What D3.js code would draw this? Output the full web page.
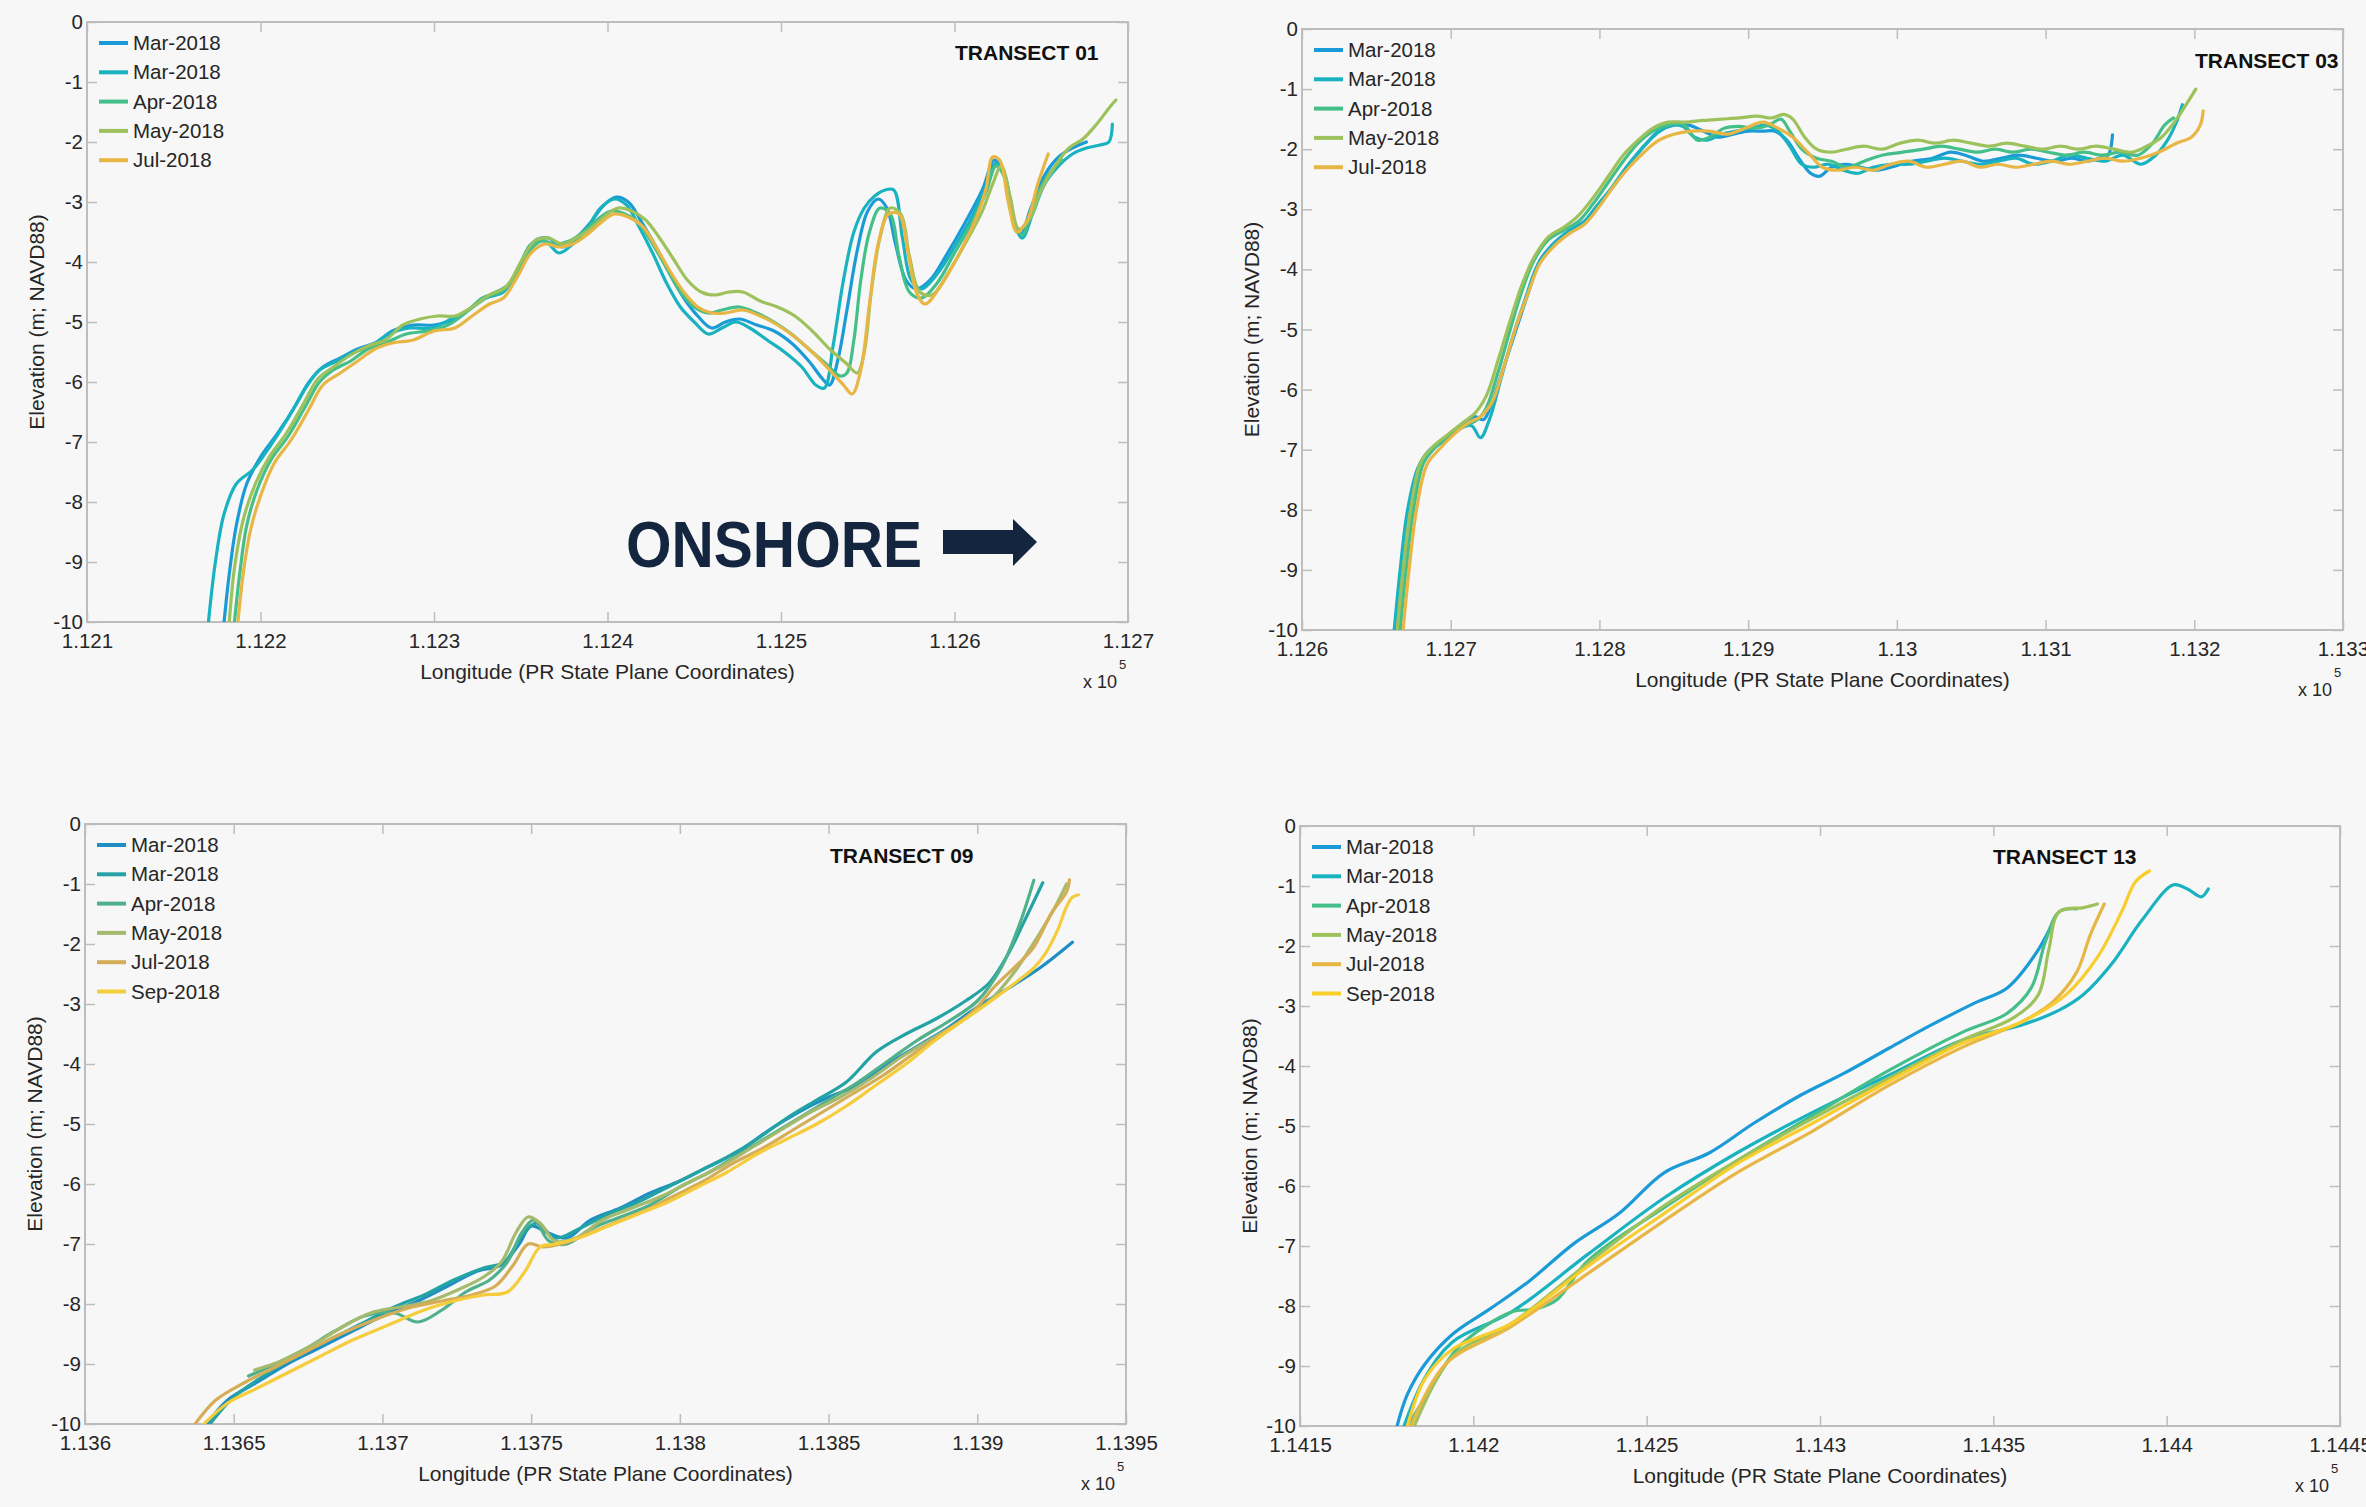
<!DOCTYPE html>
<html>
<head>
<meta charset="utf-8">
<script src="https://cdn.jsdelivr.net/npm/d3@7"></script>
<style>
  body { margin: 0; background: #f7f7f7; }
  svg text { font-family: "Liberation Sans", Arial, sans-serif; }
</style>
</head>
<body>
<svg id="chart" width="2366" height="1507"></svg>
<script>
// ---- data (x in units of 1e5 PR State Plane, y = elevation m NAVD88) ----
var yTicks = [0, -1, -2, -3, -4, -5, -6, -7, -8, -9, -10];

// TRANSECT 01
var t01Names = ["Mar-2018", "Mar-2018", "Apr-2018", "May-2018", "Jul-2018"];
var t01Ticks = [1.121, 1.122, 1.123, 1.124, 1.125, 1.126, 1.127];
var t01MarA = [[1.12179,-10],[1.12182,-9.2],[1.12186,-8.4],[1.12192,-7.7],[1.12200,-7.25],[1.12210,-6.85],[1.12220,-6.4],[1.12228,-6.0],[1.12236,-5.75],[1.12246,-5.6],[1.12256,-5.45],[1.12266,-5.35],[1.12276,-5.15],[1.12288,-5.05],[1.12300,-5.05],[1.12312,-4.95],[1.12322,-4.75],[1.12332,-4.55],[1.12342,-4.4],[1.12350,-4.05],[1.12358,-3.65],[1.12366,-3.6],[1.12374,-3.75],[1.12382,-3.6],[1.12390,-3.35],[1.12398,-3.05],[1.12405,-2.92],[1.12412,-3.0],[1.12420,-3.35],[1.12428,-3.75],[1.12436,-4.2],[1.12444,-4.6],[1.12452,-4.9],[1.12460,-5.1],[1.12468,-5.0],[1.12476,-4.95],[1.12486,-5.05],[1.12496,-5.15],[1.12506,-5.35],[1.12516,-5.65],[1.12524,-5.95],[1.12528,-6.05],[1.12533,-5.6],[1.12538,-4.8],[1.12544,-3.8],[1.12550,-3.15],[1.12556,-2.95],[1.12561,-3.1],[1.12566,-3.7],[1.12572,-4.3],[1.12578,-4.45],[1.12586,-4.3],[1.12596,-3.85],[1.12606,-3.35],[1.12616,-2.8],[1.12623,-2.3],[1.12628,-2.5],[1.12633,-3.2],[1.12638,-3.55],[1.12644,-3.1],[1.12652,-2.55],[1.12660,-2.25],[1.12668,-2.1],[1.12676,-2.0]];
var t01MarB = [[1.12170,-10],[1.12174,-9.0],[1.12179,-8.2],[1.12186,-7.7],[1.12196,-7.45],[1.12206,-7.05],[1.12216,-6.6],[1.12226,-6.1],[1.12234,-5.8],[1.12244,-5.65],[1.12254,-5.5],[1.12264,-5.4],[1.12274,-5.2],[1.12286,-5.1],[1.12298,-5.1],[1.12310,-4.95],[1.12320,-4.8],[1.12330,-4.6],[1.12340,-4.5],[1.12348,-4.15],[1.12356,-3.7],[1.12364,-3.65],[1.12372,-3.85],[1.12380,-3.7],[1.12388,-3.45],[1.12396,-3.1],[1.12404,-2.95],[1.12411,-3.05],[1.12418,-3.4],[1.12426,-3.85],[1.12434,-4.35],[1.12442,-4.75],[1.12450,-5.0],[1.12458,-5.2],[1.12466,-5.1],[1.12474,-5.0],[1.12482,-5.1],[1.12492,-5.3],[1.12502,-5.5],[1.12512,-5.75],[1.12520,-6.05],[1.12525,-6.1],[1.12530,-5.4],[1.12536,-4.3],[1.12542,-3.5],[1.12548,-3.1],[1.12554,-2.9],[1.12560,-2.8],[1.12565,-2.8],[1.12570,-3.6],[1.12575,-4.3],[1.12581,-4.45],[1.12590,-4.2],[1.12600,-3.75],[1.12610,-3.25],[1.12618,-2.75],[1.12624,-2.35],[1.12629,-2.55],[1.12634,-3.3],[1.12639,-3.6],[1.12645,-3.2],[1.12652,-2.7],[1.12660,-2.4],[1.12668,-2.2],[1.12676,-2.1],[1.12684,-2.05],[1.12689,-2.0],[1.12691,-1.7]];
var t01Apr = [[1.12185,-10],[1.12188,-9.2],[1.12192,-8.4],[1.12198,-7.8],[1.12206,-7.3],[1.12216,-6.9],[1.12226,-6.4],[1.12234,-6.0],[1.12242,-5.8],[1.12252,-5.65],[1.12262,-5.45],[1.12272,-5.35],[1.12284,-5.2],[1.12296,-5.15],[1.12308,-5.05],[1.12318,-4.85],[1.12328,-4.6],[1.12338,-4.5],[1.12346,-4.3],[1.12354,-3.85],[1.12362,-3.65],[1.12370,-3.7],[1.12378,-3.65],[1.12386,-3.5],[1.12394,-3.3],[1.12402,-3.15],[1.12410,-3.2],[1.12418,-3.35],[1.12426,-3.7],[1.12434,-4.1],[1.12442,-4.5],[1.12450,-4.75],[1.12458,-4.85],[1.12466,-4.8],[1.12476,-4.75],[1.12486,-4.85],[1.12496,-5.0],[1.12506,-5.2],[1.12516,-5.45],[1.12526,-5.7],[1.12534,-5.9],[1.12538,-5.85],[1.12542,-5.3],[1.12546,-4.3],[1.12551,-3.5],[1.12557,-3.1],[1.12563,-3.2],[1.12568,-3.9],[1.12574,-4.5],[1.12581,-4.6],[1.12590,-4.35],[1.12600,-3.85],[1.12610,-3.35],[1.12618,-2.85],[1.12624,-2.4],[1.12629,-2.6],[1.12634,-3.3],[1.12639,-3.55],[1.12646,-3.0],[1.12654,-2.55],[1.12662,-2.3]];
var t01May = [[1.12182,-10],[1.12185,-9.1],[1.12190,-8.3],[1.12197,-7.7],[1.12205,-7.25],[1.12215,-6.85],[1.12225,-6.35],[1.12233,-5.95],[1.12242,-5.75],[1.12252,-5.55],[1.12262,-5.4],[1.12272,-5.3],[1.12282,-5.05],[1.12292,-4.95],[1.12302,-4.9],[1.12312,-4.9],[1.12322,-4.75],[1.12332,-4.55],[1.12342,-4.4],[1.12350,-4.0],[1.12358,-3.65],[1.12366,-3.6],[1.12374,-3.7],[1.12382,-3.6],[1.12390,-3.45],[1.12398,-3.25],[1.12406,-3.1],[1.12414,-3.15],[1.12422,-3.3],[1.12430,-3.6],[1.12438,-3.95],[1.12446,-4.3],[1.12454,-4.5],[1.12462,-4.55],[1.12470,-4.5],[1.12478,-4.5],[1.12488,-4.65],[1.12498,-4.75],[1.12508,-4.9],[1.12518,-5.15],[1.12528,-5.45],[1.12538,-5.7],[1.12544,-5.85],[1.12548,-5.5],[1.12552,-4.5],[1.12557,-3.6],[1.12563,-3.1],[1.12569,-3.2],[1.12574,-3.9],[1.12580,-4.5],[1.12587,-4.55],[1.12596,-4.2],[1.12606,-3.7],[1.12616,-3.15],[1.12622,-2.7],[1.12627,-2.4],[1.12632,-2.9],[1.12637,-3.45],[1.12643,-3.3],[1.12650,-2.8],[1.12658,-2.4],[1.12666,-2.1],[1.12674,-1.95],[1.12682,-1.7],[1.12690,-1.4],[1.12693,-1.3]];
var t01Jul = [[1.12187,-10],[1.12190,-9.2],[1.12194,-8.5],[1.12200,-7.9],[1.12208,-7.35],[1.12218,-6.95],[1.12228,-6.45],[1.12236,-6.05],[1.12246,-5.85],[1.12256,-5.65],[1.12266,-5.45],[1.12276,-5.35],[1.12288,-5.3],[1.12300,-5.15],[1.12312,-5.1],[1.12322,-4.9],[1.12332,-4.7],[1.12340,-4.6],[1.12348,-4.25],[1.12356,-3.85],[1.12364,-3.7],[1.12372,-3.75],[1.12380,-3.7],[1.12388,-3.55],[1.12396,-3.35],[1.12404,-3.2],[1.12412,-3.25],[1.12420,-3.4],[1.12428,-3.75],[1.12436,-4.15],[1.12444,-4.5],[1.12452,-4.75],[1.12460,-4.85],[1.12468,-4.85],[1.12478,-4.8],[1.12488,-4.9],[1.12498,-5.05],[1.12508,-5.25],[1.12518,-5.5],[1.12528,-5.8],[1.12536,-6.05],[1.12541,-6.2],[1.12546,-5.8],[1.12551,-4.7],[1.12556,-3.7],[1.12562,-3.2],[1.12568,-3.2],[1.12573,-3.8],[1.12578,-4.5],[1.12583,-4.7],[1.12592,-4.4],[1.12602,-3.9],[1.12612,-3.3],[1.12618,-2.8],[1.12622,-2.25],[1.12626,-2.3],[1.12631,-3.0],[1.12636,-3.5],[1.12642,-3.3],[1.12648,-2.7],[1.12654,-2.2]];

// TRANSECT 03
var t03Names = ["Mar-2018", "Mar-2018", "Apr-2018", "May-2018", "Jul-2018"];
var t03Ticks = [1.126, 1.127, 1.128, 1.129, 1.130, 1.131, 1.132, 1.133];
var t03MarA = [[1.12664,-10],[1.12668,-9.0],[1.12673,-8.0],[1.12680,-7.3],[1.12688,-7.0],[1.12698,-6.8],[1.12708,-6.6],[1.12716,-6.45],[1.12722,-6.5],[1.12728,-6.2],[1.12736,-5.6],[1.12744,-5.0],[1.12752,-4.4],[1.12760,-3.85],[1.12770,-3.55],[1.12780,-3.35],[1.12790,-3.2],[1.12800,-2.9],[1.12810,-2.6],[1.12820,-2.25],[1.12830,-1.95],[1.12840,-1.7],[1.12850,-1.6],[1.12860,-1.6],[1.12870,-1.7],[1.12880,-1.8],[1.12890,-1.75],[1.12900,-1.7],[1.12910,-1.7],[1.12918,-1.7],[1.12926,-1.85],[1.12934,-2.15],[1.12942,-2.4],[1.12948,-2.45],[1.12956,-2.3],[1.12966,-2.25],[1.12976,-2.3],[1.12986,-2.35],[1.12996,-2.3],[1.13010,-2.2],[1.13024,-2.15],[1.13036,-2.05],[1.13046,-2.1],[1.13058,-2.2],[1.13070,-2.15],[1.13082,-2.1],[1.13094,-2.15],[1.13106,-2.2],[1.13118,-2.15],[1.13128,-2.2],[1.13136,-2.15],[1.13142,-2.1],[1.13145,-1.76]];
var t03MarB = [[1.12662,-10],[1.12666,-9.0],[1.12671,-8.0],[1.12678,-7.3],[1.12686,-7.0],[1.12696,-6.85],[1.12706,-6.65],[1.12714,-6.6],[1.12720,-6.8],[1.12726,-6.5],[1.12734,-5.8],[1.12742,-5.1],[1.12750,-4.5],[1.12758,-3.95],[1.12768,-3.6],[1.12778,-3.4],[1.12788,-3.25],[1.12798,-2.95],[1.12808,-2.65],[1.12818,-2.3],[1.12828,-2.0],[1.12838,-1.75],[1.12848,-1.6],[1.12856,-1.62],[1.12864,-1.8],[1.12872,-1.85],[1.12882,-1.75],[1.12892,-1.7],[1.12902,-1.65],[1.12912,-1.6],[1.12920,-1.7],[1.12928,-1.95],[1.12936,-2.25],[1.12944,-2.3],[1.12954,-2.25],[1.12964,-2.35],[1.12974,-2.4],[1.12984,-2.3],[1.12996,-2.25],[1.13008,-2.25],[1.13020,-2.2],[1.13032,-2.15],[1.13044,-2.2],[1.13056,-2.25],[1.13068,-2.2],[1.13080,-2.15],[1.13092,-2.25],[1.13104,-2.2],[1.13116,-2.1],[1.13128,-2.15],[1.13140,-2.2],[1.13152,-2.1],[1.13164,-2.25],[1.13174,-2.1],[1.13182,-1.85],[1.13188,-1.55],[1.13192,-1.26]];
var t03Apr = [[1.12666,-10],[1.12670,-9.0],[1.12675,-8.0],[1.12682,-7.2],[1.12690,-6.95],[1.12700,-6.75],[1.12710,-6.6],[1.12718,-6.5],[1.12724,-6.3],[1.12732,-5.7],[1.12740,-5.0],[1.12748,-4.35],[1.12756,-3.85],[1.12766,-3.5],[1.12776,-3.35],[1.12786,-3.2],[1.12796,-2.9],[1.12806,-2.55],[1.12816,-2.2],[1.12826,-1.9],[1.12836,-1.7],[1.12846,-1.6],[1.12856,-1.58],[1.12866,-1.85],[1.12874,-1.8],[1.12884,-1.65],[1.12894,-1.62],[1.12904,-1.65],[1.12914,-1.6],[1.12922,-1.5],[1.12928,-1.7],[1.12936,-2.0],[1.12946,-2.15],[1.12956,-2.2],[1.12966,-2.3],[1.12978,-2.2],[1.12990,-2.1],[1.13004,-2.05],[1.13018,-2.0],[1.13030,-1.95],[1.13042,-2.0],[1.13054,-2.05],[1.13066,-2.0],[1.13078,-2.05],[1.13090,-2.0],[1.13102,-2.05],[1.13114,-2.1],[1.13126,-2.05],[1.13138,-2.1],[1.13150,-2.05],[1.13162,-2.1],[1.13172,-1.9],[1.13180,-1.6],[1.13186,-1.48]];
var t03May = [[1.12664,-10],[1.12668,-9.0],[1.12673,-8.0],[1.12680,-7.2],[1.12688,-6.95],[1.12698,-6.75],[1.12708,-6.55],[1.12716,-6.4],[1.12724,-6.1],[1.12732,-5.5],[1.12740,-4.85],[1.12748,-4.25],[1.12756,-3.8],[1.12766,-3.45],[1.12776,-3.3],[1.12786,-3.1],[1.12796,-2.8],[1.12806,-2.45],[1.12816,-2.1],[1.12826,-1.85],[1.12836,-1.65],[1.12846,-1.55],[1.12858,-1.55],[1.12870,-1.52],[1.12882,-1.5],[1.12894,-1.48],[1.12906,-1.45],[1.12916,-1.48],[1.12924,-1.42],[1.12930,-1.5],[1.12938,-1.8],[1.12946,-2.0],[1.12956,-2.05],[1.12966,-2.0],[1.12978,-1.95],[1.12990,-2.0],[1.13002,-1.9],[1.13014,-1.85],[1.13026,-1.9],[1.13038,-1.85],[1.13050,-1.9],[1.13062,-1.95],[1.13074,-1.9],[1.13086,-1.95],[1.13098,-2.0],[1.13110,-1.95],[1.13122,-2.0],[1.13134,-1.95],[1.13146,-2.0],[1.13158,-2.05],[1.13168,-1.95],[1.13178,-1.8],[1.13188,-1.5],[1.13196,-1.2],[1.13201,-1.0]];
var t03Jul = [[1.12668,-10],[1.12672,-9.0],[1.12677,-8.0],[1.12684,-7.25],[1.12692,-7.0],[1.12702,-6.75],[1.12712,-6.55],[1.12720,-6.45],[1.12728,-6.2],[1.12736,-5.6],[1.12744,-4.95],[1.12752,-4.4],[1.12760,-3.9],[1.12770,-3.6],[1.12780,-3.4],[1.12790,-3.25],[1.12800,-2.95],[1.12810,-2.6],[1.12820,-2.3],[1.12830,-2.05],[1.12840,-1.85],[1.12850,-1.75],[1.12862,-1.7],[1.12874,-1.7],[1.12886,-1.75],[1.12898,-1.65],[1.12910,-1.55],[1.12920,-1.65],[1.12930,-1.8],[1.12940,-2.05],[1.12950,-2.3],[1.12960,-2.35],[1.12972,-2.3],[1.12984,-2.35],[1.12996,-2.25],[1.13008,-2.2],[1.13020,-2.3],[1.13032,-2.25],[1.13044,-2.2],[1.13056,-2.3],[1.13068,-2.25],[1.13080,-2.3],[1.13092,-2.25],[1.13104,-2.2],[1.13116,-2.25],[1.13128,-2.2],[1.13140,-2.15],[1.13152,-2.2],[1.13164,-2.15],[1.13176,-2.05],[1.13188,-1.9],[1.13198,-1.8],[1.13204,-1.6],[1.13206,-1.36]];

// TRANSECT 09
var t09Names = ["Mar-2018", "Mar-2018", "Apr-2018", "May-2018", "Jul-2018", "Sep-2018"];
var t09Ticks = [1.136, 1.1365, 1.137, 1.1375, 1.138, 1.1385, 1.139, 1.1395];
var t09MarA = [[1.13641,-10],[1.13648,-9.6],[1.13658,-9.3],[1.13668,-9.0],[1.13678,-8.75],[1.13690,-8.45],[1.13702,-8.15],[1.13712,-7.95],[1.13722,-7.7],[1.13732,-7.45],[1.13740,-7.35],[1.13746,-7.0],[1.13750,-6.7],[1.13755,-6.8],[1.13762,-6.9],[1.13770,-6.6],[1.13780,-6.4],[1.13790,-6.15],[1.13800,-5.95],[1.13810,-5.7],[1.13820,-5.45],[1.13830,-5.1],[1.13840,-4.8],[1.13850,-4.55],[1.13860,-4.35],[1.13870,-4.0],[1.13880,-3.7],[1.13890,-3.4],[1.13900,-3.05],[1.13910,-2.75],[1.13921,-2.4],[1.13932,-1.97]];
var t09MarB = [[1.13642,-10],[1.13650,-9.55],[1.13660,-9.2],[1.13670,-8.9],[1.13680,-8.65],[1.13692,-8.35],[1.13704,-8.05],[1.13714,-7.85],[1.13724,-7.6],[1.13734,-7.4],[1.13741,-7.3],[1.13747,-6.85],[1.13752,-6.65],[1.13758,-6.9],[1.13766,-6.75],[1.13776,-6.5],[1.13786,-6.3],[1.13796,-6.05],[1.13806,-5.8],[1.13816,-5.55],[1.13826,-5.25],[1.13836,-4.9],[1.13846,-4.6],[1.13856,-4.3],[1.13866,-3.8],[1.13876,-3.5],[1.13886,-3.25],[1.13896,-2.95],[1.13904,-2.65],[1.13910,-2.2],[1.13916,-1.6],[1.13922,-0.98]];
var t09Apr = [[1.13655,-9.2],[1.13664,-9.0],[1.13674,-8.75],[1.13684,-8.45],[1.13694,-8.2],[1.13704,-8.15],[1.13712,-8.3],[1.13720,-8.1],[1.13728,-7.8],[1.13736,-7.6],[1.13742,-7.3],[1.13747,-6.8],[1.13751,-6.6],[1.13756,-6.95],[1.13762,-7.0],[1.13770,-6.75],[1.13780,-6.55],[1.13790,-6.35],[1.13800,-6.05],[1.13810,-5.8],[1.13820,-5.5],[1.13830,-5.2],[1.13840,-4.9],[1.13850,-4.6],[1.13860,-4.3],[1.13870,-3.95],[1.13880,-3.6],[1.13890,-3.3],[1.13900,-2.95],[1.13908,-2.4],[1.13914,-1.7],[1.13919,-0.94]];
var t09May = [[1.13657,-9.1],[1.13666,-8.95],[1.13676,-8.7],[1.13686,-8.4],[1.13696,-8.15],[1.13706,-8.05],[1.13716,-7.95],[1.13726,-7.75],[1.13734,-7.55],[1.13740,-7.3],[1.13745,-6.8],[1.13749,-6.55],[1.13753,-6.65],[1.13758,-6.95],[1.13765,-6.9],[1.13774,-6.6],[1.13784,-6.4],[1.13794,-6.2],[1.13804,-5.95],[1.13814,-5.7],[1.13824,-5.4],[1.13834,-5.1],[1.13844,-4.8],[1.13854,-4.55],[1.13864,-4.25],[1.13874,-3.9],[1.13884,-3.6],[1.13894,-3.3],[1.13904,-2.95],[1.13912,-2.5],[1.13920,-1.9],[1.13926,-1.4],[1.13930,-1.0]];
var t09Jul = [[1.13637,-10],[1.13644,-9.6],[1.13654,-9.3],[1.13664,-9.05],[1.13674,-8.8],[1.13686,-8.5],[1.13698,-8.25],[1.13710,-8.05],[1.13720,-7.95],[1.13730,-7.85],[1.13738,-7.7],[1.13744,-7.35],[1.13749,-7.0],[1.13754,-7.05],[1.13760,-7.0],[1.13768,-6.85],[1.13778,-6.65],[1.13788,-6.45],[1.13798,-6.2],[1.13808,-5.95],[1.13818,-5.65],[1.13828,-5.4],[1.13838,-5.1],[1.13848,-4.8],[1.13858,-4.5],[1.13868,-4.2],[1.13878,-3.85],[1.13888,-3.5],[1.13898,-3.15],[1.13906,-2.7],[1.13914,-2.32],[1.13919,-2.05],[1.13925,-1.48],[1.13930,-1.13],[1.13931,-0.93]];
var t09Sep = [[1.13640,-10],[1.13648,-9.65],[1.13658,-9.4],[1.13668,-9.15],[1.13678,-8.9],[1.13690,-8.6],[1.13702,-8.35],[1.13714,-8.1],[1.13724,-7.95],[1.13734,-7.85],[1.13742,-7.8],[1.13748,-7.45],[1.13753,-7.05],[1.13758,-7.0],[1.13766,-6.9],[1.13776,-6.7],[1.13786,-6.5],[1.13796,-6.3],[1.13806,-6.05],[1.13816,-5.8],[1.13826,-5.5],[1.13836,-5.25],[1.13846,-5.0],[1.13856,-4.7],[1.13866,-4.35],[1.13876,-4.0],[1.13886,-3.6],[1.13896,-3.25],[1.13906,-2.9],[1.13914,-2.6],[1.13919,-2.4],[1.13923,-2.15],[1.13927,-1.77],[1.13930,-1.38],[1.13932,-1.22],[1.13934,-1.18]];

// TRANSECT 13
var t13Names = ["Mar-2018", "Mar-2018", "Apr-2018", "May-2018", "Jul-2018", "Sep-2018"];
var t13Ticks = [1.1415, 1.142, 1.1425, 1.143, 1.1435, 1.144, 1.1445];
var t13MarA = [[1.14178,-10],[1.14181,-9.47],[1.14186,-8.97],[1.14194,-8.47],[1.14205,-8.04],[1.14216,-7.59],[1.14229,-6.96],[1.14242,-6.46],[1.14255,-5.78],[1.14268,-5.45],[1.14281,-4.95],[1.14294,-4.5],[1.14307,-4.12],[1.14320,-3.7],[1.14332,-3.32],[1.14345,-2.94],[1.14354,-2.7],[1.14363,-2.06],[1.14368,-1.5]];
var t13MarB = [[1.14180,-10],[1.14186,-9.2],[1.14194,-8.6],[1.14211,-8.1],[1.14233,-7.14],[1.14255,-6.2],[1.14276,-5.45],[1.14298,-4.77],[1.14320,-4.15],[1.14341,-3.57],[1.14358,-3.32],[1.14369,-3.07],[1.14376,-2.81],[1.14384,-2.31],[1.14393,-1.56],[1.14402,-0.98],[1.14406,-1.05],[1.14410,-1.18],[1.14412,-1.05]];
var t13Apr = [[1.14181,-10],[1.14188,-9.35],[1.14196,-8.67],[1.14211,-8.1],[1.14218,-8.05],[1.14224,-7.9],[1.14233,-7.25],[1.14255,-6.36],[1.14276,-5.58],[1.14298,-4.82],[1.14320,-4.07],[1.14341,-3.44],[1.14354,-3.12],[1.14361,-2.69],[1.14365,-1.93],[1.14369,-1.43],[1.14374,-1.38]];
var t13May = [[1.14183,-10],[1.14194,-8.84],[1.14211,-8.29],[1.14233,-7.29],[1.14255,-6.33],[1.14276,-5.58],[1.14298,-4.87],[1.14320,-4.2],[1.14341,-3.57],[1.14356,-3.19],[1.14363,-2.81],[1.14366,-2.06],[1.14369,-1.43],[1.14376,-1.36],[1.14380,-1.3]];
var t13Jul = [[1.14182,-10],[1.14192,-8.97],[1.14211,-8.34],[1.14233,-7.46],[1.14255,-6.58],[1.14276,-5.78],[1.14298,-5.08],[1.14320,-4.32],[1.14341,-3.69],[1.14358,-3.27],[1.14367,-2.94],[1.14374,-2.44],[1.14378,-1.81],[1.14382,-1.3]];
var t13Sep = [[1.14181,-10],[1.14186,-9.22],[1.14194,-8.72],[1.14211,-8.29],[1.14233,-7.34],[1.14255,-6.46],[1.14276,-5.63],[1.14298,-4.95],[1.14320,-4.25],[1.14341,-3.62],[1.14358,-3.27],[1.14371,-2.81],[1.14380,-2.19],[1.14387,-1.43],[1.14391,-0.93],[1.14395,-0.75]];

// ---- colours ----
var colorsA = ["#1a9bd7", "#19b2c0", "#45bf8a", "#9dc25c", "#e8b645", "#f8cd2c"];
var colorsB = ["#1f8fc3", "#23a3a3", "#4fb18b", "#a5ba6c", "#d6ad57", "#f5cc3b"];
var axisColor = "#bdbdbd";
var textColor = "#262626";

var panels = [
  {left: 87, right: 1128, top: 22, bottom: 622, domain: [1.121, 1.127], ticks: t01Ticks,
   title: "TRANSECT 01", tx: 955, ty: 60, names: t01Names, colors: colorsA,
   series: [t01MarA, t01MarB, t01Apr, t01May, t01Jul]},
  {left: 1302, right: 2343, top: 29, bottom: 630, domain: [1.126, 1.133], ticks: t03Ticks,
   title: "TRANSECT 03", tx: 2195, ty: 68, names: t03Names, colors: colorsA,
   series: [t03MarA, t03MarB, t03Apr, t03May, t03Jul]},
  {left: 85, right: 1126, top: 824, bottom: 1424, domain: [1.136, 1.1395], ticks: t09Ticks,
   title: "TRANSECT 09", tx: 830, ty: 863, names: t09Names, colors: colorsB,
   series: [t09MarA, t09MarB, t09Apr, t09May, t09Jul, t09Sep]},
  {left: 1300, right: 2340, top: 826, bottom: 1426, domain: [1.1415, 1.1445], ticks: t13Ticks,
   title: "TRANSECT 13", tx: 1993, ty: 864, names: t13Names, colors: colorsA,
   series: [t13MarA, t13MarB, t13Apr, t13May, t13Jul, t13Sep]}
];

var svg = d3.select("#chart");
svg.append("rect").attr("width", 2366).attr("height", 1507).attr("fill", "#f7f7f7");

function styleAxis(sel) {
  sel.select(".domain").remove();
  sel.selectAll(".tick line").attr("stroke", axisColor).attr("stroke-width", 1.5);
  sel.selectAll(".tick text").attr("fill", textColor).attr("font-size", 20.5)
    .attr("font-family", "Liberation Sans, Arial, sans-serif");
}

function drawPanel(p, pi) {
  var x = d3.scaleLinear().domain(p.domain).range([p.left, p.right]);
  var y = d3.scaleLinear().domain([-10, 0]).range([p.bottom, p.top]);
  var g = svg.append("g");
  var fmt = function (d) { return String(+d.toFixed(4)); };

  g.append("g").attr("transform", "translate(0," + p.bottom + ")")
    .call(d3.axisBottom(x).tickValues(p.ticks).tickFormat(fmt).tickSizeInner(-10).tickSizeOuter(0).tickPadding(11))
    .call(styleAxis);
  g.append("g").attr("transform", "translate(0," + p.top + ")")
    .call(d3.axisTop(x).tickValues(p.ticks).tickFormat("").tickSizeInner(-10).tickSizeOuter(0))
    .call(styleAxis);
  g.append("g").attr("transform", "translate(" + p.left + ",0)")
    .call(d3.axisLeft(y).tickValues(yTicks).tickFormat(function (d) { return String(d); }).tickSizeInner(-10).tickSizeOuter(0).tickPadding(4))
    .call(styleAxis);
  g.append("g").attr("transform", "translate(" + p.right + ",0)")
    .call(d3.axisRight(y).tickValues(yTicks).tickFormat("").tickSizeInner(-10).tickSizeOuter(0))
    .call(styleAxis);

  g.append("rect").attr("x", p.left).attr("y", p.top)
    .attr("width", p.right - p.left).attr("height", p.bottom - p.top)
    .attr("fill", "none").attr("stroke", axisColor).attr("stroke-width", 2);

  // profiles
  g.append("clipPath").attr("id", "clip" + pi).append("rect")
    .attr("x", p.left).attr("y", p.top - 2).attr("width", p.right - p.left).attr("height", p.bottom - p.top + 2);
  var line = d3.line().x(function (d) { return x(d[0]); }).y(function (d) { return y(d[1]); })
    .curve(d3.curveCatmullRom.alpha(0.5));
  g.append("g").attr("clip-path", "url(#clip" + pi + ")")
    .selectAll("path").data(p.series).join("path")
    .attr("d", line).attr("fill", "none")
    .attr("stroke", function (d, i) { return p.colors[i]; })
    .attr("stroke-width", 3.2).attr("stroke-linejoin", "round").attr("stroke-linecap", "round");

  // legend
  var lg = g.append("g").selectAll("g").data(p.names).join("g")
    .attr("transform", function (d, i) { return "translate(" + (p.left + 12) + "," + (p.top + 21 + i * 29.3) + ")"; });
  lg.append("line").attr("x1", 0).attr("x2", 29).attr("y1", 0).attr("y2", 0)
    .attr("stroke", function (d, i) { return p.colors[i]; }).attr("stroke-width", 4);
  lg.append("text").attr("x", 34).attr("y", 0).attr("dy", "0.35em")
    .attr("font-size", 20.5).attr("fill", textColor).text(function (d) { return d; });

  // title
  g.append("text").attr("x", p.tx).attr("y", p.ty).attr("font-size", 21).attr("font-weight", "bold")
    .attr("fill", "#111").text(p.title);

  // axis labels
  g.append("text").attr("transform", "translate(" + (p.left - 50) + "," + ((p.top + p.bottom) / 2) + ") rotate(-90)")
    .attr("text-anchor", "middle").attr("dy", "0.35em").attr("font-size", 21).attr("fill", textColor)
    .text("Elevation (m; NAVD88)");
  g.append("text").attr("x", (p.left + p.right) / 2).attr("y", p.bottom + 57)
    .attr("text-anchor", "middle").attr("font-size", 21).attr("fill", textColor)
    .text("Longitude (PR State Plane Coordinates)");
  g.append("text").attr("x", p.right - 11).attr("y", p.bottom + 66)
    .attr("text-anchor", "end").attr("font-size", 18).attr("fill", textColor).text("x 10");
  g.append("text").attr("x", p.right - 9).attr("y", p.bottom + 47)
    .attr("font-size", 13).attr("fill", textColor).text("5");
}

panels.forEach(drawPanel);

// onshore annotation
svg.append("text").attr("x", 626).attr("y", 567).attr("font-family", "Lato, 'Open Sans', sans-serif")
  .attr("font-weight", 700).attr("font-size", 64).attr("fill", "#14263f")
  .attr("textLength", 296).attr("lengthAdjust", "spacingAndGlyphs").text("ONSHORE");
svg.append("polygon").attr("fill", "#14263f")
  .attr("points", "943,530 1013,530 1013,519 1037,542 1013,566 1013,554 943,554");
</script>
</body>
</html>
